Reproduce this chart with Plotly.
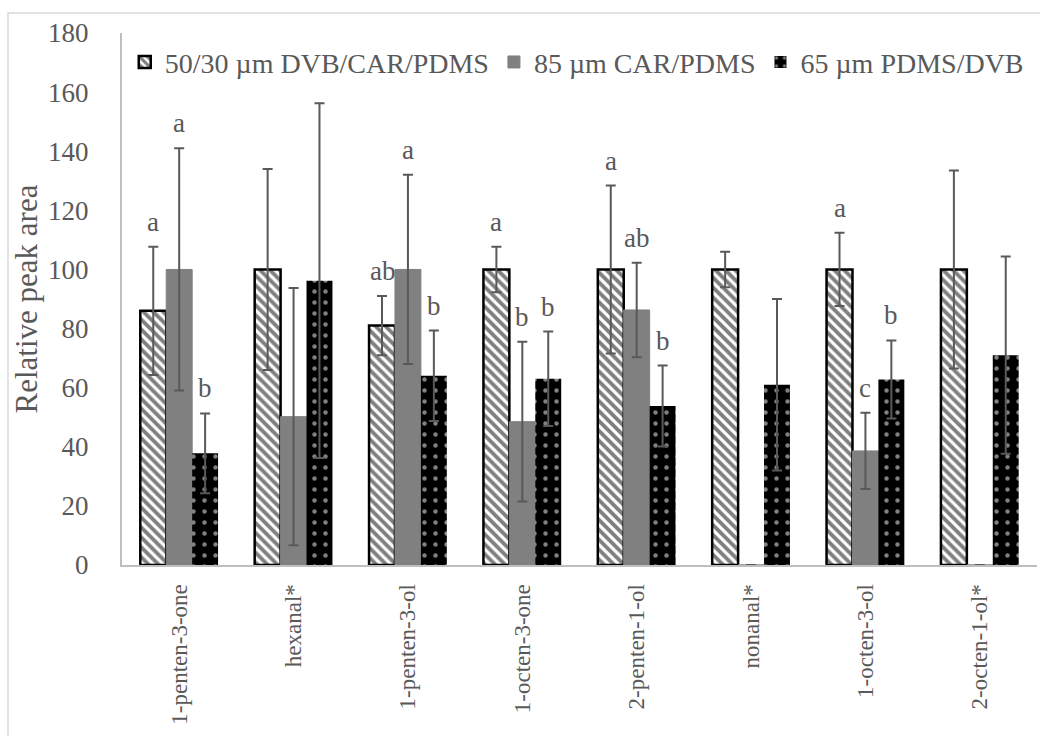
import plotly.graph_objects as go

categories = ["1-penten-3-one", "hexanal*", "1-penten-3-ol", "1-octen-3-one",
              "2-penten-1-ol", "nonanal*", "1-octen-3-ol", "2-octen-1-ol*"]
series_names = ["50/30 µm DVB/CAR/PDMS", "85 µm CAR/PDMS", "65 µm PDMS/DVB"]

dvb_car_pdms = [86, 100, 81, 100, 100, 100, 100, 100]
dvb_car_pdms_err = [21.7, 34, 10, 7.7, 28.4, 6, 12.4, 33.5]
car_pdms = [100, 50.2, 100, 48.5, 86.3, 0, 38.6, 0]
car_pdms_err = [41, 43.5, 32, 27, 16, 0, 12.9, 0]
pdms_dvb = [37.8, 96.2, 64, 63, 53.8, 61, 62.8, 71]
pdms_dvb_err = [13.5, 60, 15.3, 16, 13.7, 29, 13.2, 33.4]

letters_a = ["a", "", "ab", "a", "a", "", "a", ""]
letters_b = ["a", "", "a", "b", "ab", "", "c", ""]
letters_c = ["b", "", "b", "b", "b", "", "b", ""]

xs = list(range(len(categories)))
FONT = "Liberation Serif"
TXT = "#595959"
bargap = 0.32
bw = (1 - bargap) / 3

fig = go.Figure()
err_style = dict(type="data", thickness=2, width=5, color="#595959")

fig.add_trace(go.Bar(
    x=xs, y=dvb_car_pdms, name=series_names[0],
    error_y=dict(array=dvb_car_pdms_err, **err_style),
    marker=dict(color="white", line=dict(color="black", width=2.5),
                pattern=dict(shape="\\", fgcolor="black", bgcolor="white",
                             size=7, solidity=0.55)),
))
fig.add_trace(go.Bar(
    x=xs, y=car_pdms, name=series_names[1],
    error_y=dict(array=car_pdms_err, **err_style),
    marker=dict(color="#808080", line=dict(color="#808080", width=1)),
))
fig.add_trace(go.Bar(
    x=xs, y=pdms_dvb, name=series_names[2],
    error_y=dict(array=pdms_dvb_err, **err_style),
    marker=dict(color="black", line=dict(color="black", width=0),
                pattern=dict(shape=".", fgcolor="white", bgcolor="black",
                             size=11, solidity=0.13)),
))

annotations = []
for j, (vals, errs, labs) in enumerate([(dvb_car_pdms, dvb_car_pdms_err, letters_a),
                                        (car_pdms, car_pdms_err, letters_b),
                                        (pdms_dvb, pdms_dvb_err, letters_c)]):
    for i in xs:
        if labs[i]:
            annotations.append(dict(
                x=i + (j - 1) * bw, y=vals[i] + errs[i], xref="x", yref="y",
                text=labs[i], showarrow=False, yanchor="bottom", yshift=8,
                font=dict(family=FONT, size=27, color=TXT)))

fig.update_layout(
    width=1040, height=736,
    margin=dict(l=122, r=3, t=33, b=171),
    paper_bgcolor="white", plot_bgcolor="white",
    barmode="group", bargap=bargap, bargroupgap=0,
    font=dict(family=FONT, color=TXT),
    showlegend=True,
    legend=dict(orientation="h", x=0.003, y=0.945, xanchor="left", yanchor="middle",
                font=dict(family=FONT, size=28, color=TXT),
                bgcolor="rgba(0,0,0,0)", itemwidth=30, tracegroupgap=0),
    annotations=annotations,
    shapes=[dict(type="rect", xref="paper", yref="paper",
                 x0=-0.1246, x1=1.01, y0=-0.4, y1=1.0376,
                 line=dict(color="#d9d9d9", width=1.5), fillcolor="rgba(0,0,0,0)",
                 layer="below")],
)
fig.update_xaxes(
    tickmode="array", tickvals=xs, ticktext=categories, range=[-0.5, len(categories) - 0.5],
    tickangle=-90, tickfont=dict(family=FONT, size=23, color=TXT),
    showline=True, linecolor="#bfbfbf", linewidth=2, showgrid=False, zeroline=False,
    ticks="outside", ticklen=8, tickcolor="rgba(0,0,0,0)",
)
fig.update_yaxes(
    range=[0, 180], dtick=20, tickfont=dict(family=FONT, size=27, color=TXT),
    showline=True, linecolor="#bfbfbf", linewidth=2, showgrid=False, zeroline=False,
    ticks="outside", ticklen=26, tickcolor="rgba(0,0,0,0)",
    title=dict(text="Relative peak area", font=dict(family=FONT, size=31, color=TXT), standoff=1),
)

fig.write_html("out.html")
